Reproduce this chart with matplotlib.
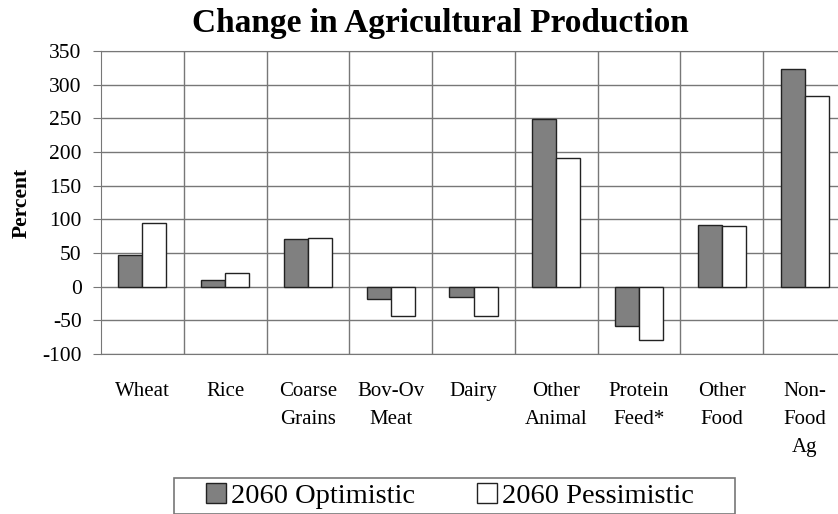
import matplotlib
matplotlib.use("Agg")
import matplotlib.pyplot as plt
import numpy as np
from matplotlib.patches import Patch, Rectangle

categories = ["Wheat", "Rice", "Coarse\nGrains", "Bov-Ov\nMeat", "Dairy",
              "Other\nAnimal", "Protein\nFeed*", "Other\nFood", "Non-\nFood\nAg"]
optimistic = [47, 10, 71, -18, -16, 249, -58, 92, 324]
pessimistic = [95, 21, 73, -43, -44, 191, -79, 90, 283]
series_names = ["2060 Optimistic", "2060 Pessimistic"]
yticks = list(range(-100, 351, 50))

plt.rcParams["font.family"] = ["Liberation Serif", "DejaVu Serif"]

fig = plt.figure(figsize=(8.38, 5.14), dpi=100)
W, H = 838, 514
ax = fig.add_axes([101 / W, (H - 354) / H, 745 / W, 303 / H])

x = np.arange(len(categories)) + 0.5
bw = 0.29
ax.bar(x - bw / 2, optimistic, bw, color="#808080", edgecolor="#222222", linewidth=1.0, zorder=3)
ax.bar(x + bw / 2, pessimistic, bw, color="white", edgecolor="#222222", linewidth=1.0, zorder=3)

ax.set_xlim(0, len(categories))
ax.set_ylim(-100, 350)
ax.set_yticks(yticks)
ax.set_yticklabels([str(v) for v in yticks], fontsize=15.5)
ax.set_xticks(np.arange(1, len(categories)))
ax.set_xticklabels([])
ax.set_xticks(x, minor=True)
ax.set_xticklabels(categories, minor=True, fontsize=15, linespacing=1.65, va="top")
ax.tick_params(axis="x", which="both", length=0, pad=20)
ax.tick_params(axis="y", length=6, color="#777777", pad=8)
ax.grid(True, axis="both", which="major", color="#777777", linewidth=1.0, zorder=0)
for s in ax.spines.values():
    s.set_color("#777777")
ax.set_ylabel("Percent", fontsize=15.5, fontweight="bold")
ax.yaxis.set_label_coords(-(101 - 32) / 745, 0.5)

fig.suptitle("Change in Agricultural Production", x=440 / W, y=1 - 8 / H, va="top",
             fontsize=24, fontweight="bold")

# legend box drawn as a figure rectangle, entries placed inside it
fig.patches.append(Rectangle((174 / W, 0.5 / H), (735 - 174) / W, (514 - 478) / H,
                             transform=fig.transFigure, facecolor="white",
                             edgecolor="#777777", linewidth=1.2, zorder=1))
handles = [Patch(facecolor="#808080", edgecolor="#222222"),
           Patch(facecolor="white", edgecolor="#222222")]
fig.legend(handles, series_names, loc="center", bbox_to_anchor=(450 / W, 1 - 496 / H),
           ncol=2, fontsize=20.5, frameon=False,
           handlelength=0.7, handleheight=0.7, handletextpad=0.15, columnspacing=2.2,
           borderpad=0.2, borderaxespad=0)

fig.savefig("out.png", dpi=100)
